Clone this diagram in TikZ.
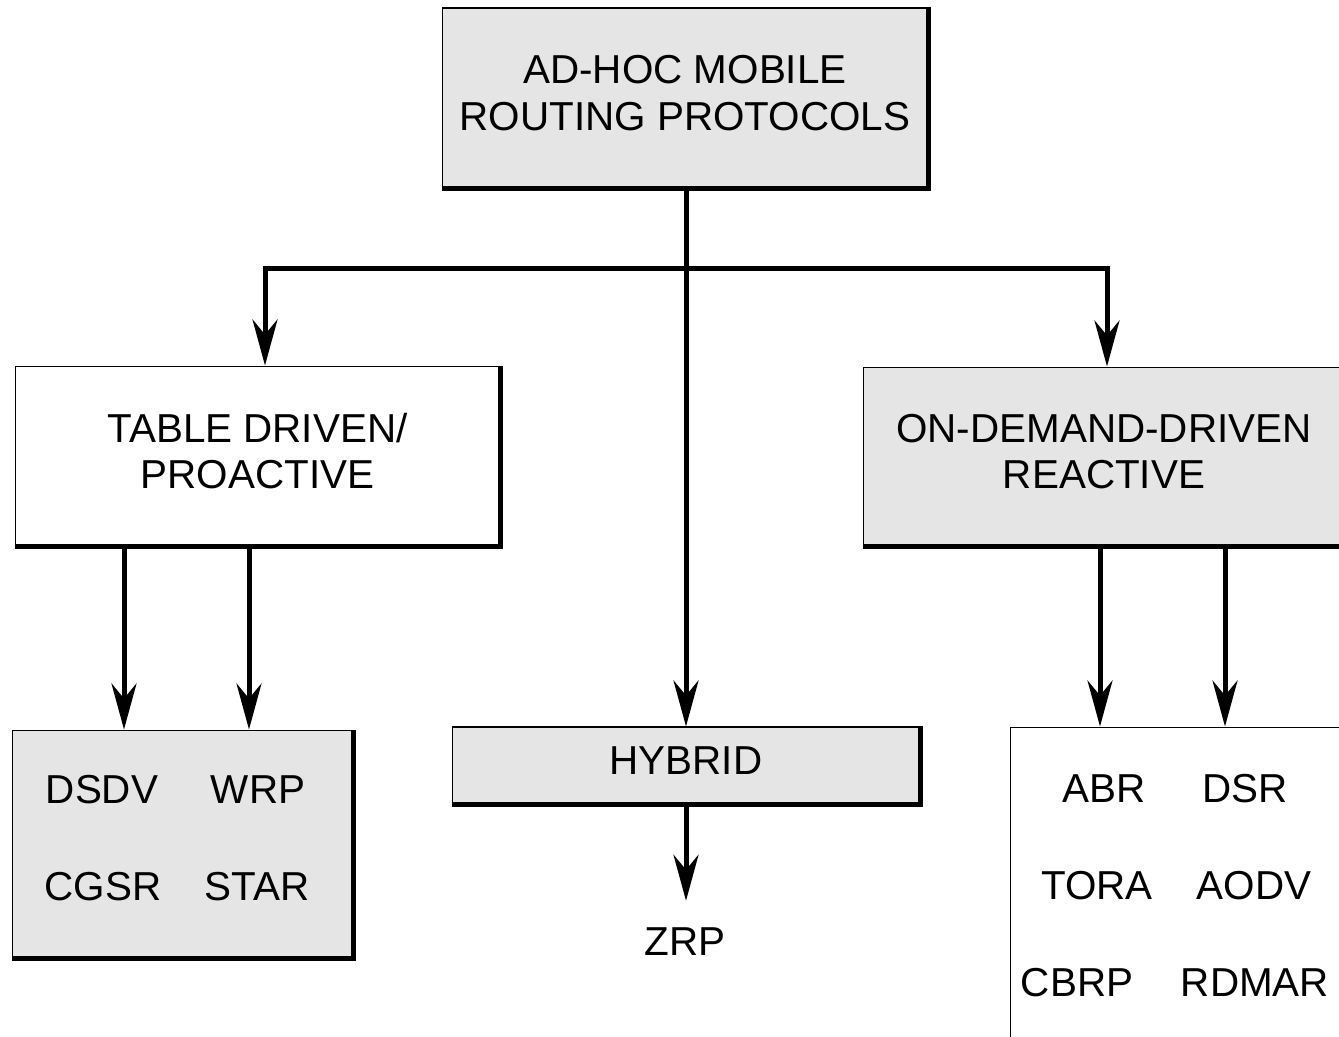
\documentclass[tikz,border=0pt]{standalone}
\usepackage{fontspec}
\setmainfont{Liberation Sans}
\usepackage{xcolor}
\usetikzlibrary{arrows.meta}

\definecolor{boxgray}{gray}{0.9}

\tikzset{
    protobox/.style={draw, line width=0.6pt, fill=boxgray, align=center,
        inner sep=0pt, text depth=0.2cm},
    listbox/.style={protobox, fill=white},
    shadowline/.style={line width=0.1cm, line join=miter},
    arr/.style={line width=0.1cm, line join=miter,
        -{Stealth[length=0.92cm,width=0.5cm,inset=0.3cm]}},
}

\begin{document}
\begin{tikzpicture}[x=0.02cm,y=-0.02cm,font=\fontsize{23}{26.5}\selectfont]
        \useasboundingbox (0,0) rectangle (1339,1036);
        \clip (0,0) rectangle (1339,1036);

        % root box
        \node[protobox, minimum width=9.72cm, minimum height=3.6cm] (adhoc) at (685,98)
            {AD-HOC MOBILE\\ROUTING PROTOCOLS};

        % second level
        \node[protobox, fill=white, minimum width=9.7cm, minimum height=3.6cm] (table) at (257.5,456)
            {TABLE DRIVEN/\\PROACTIVE};
        \node[protobox, minimum width=9.64cm, minimum height=3.58cm] (demand) at (1104,456.5)
            {ON-DEMAND-DRIVEN\\REACTIVE};
        \node[protobox, minimum width=9.36cm, minimum height=1.54cm] (hybrid) at (686,765.5)
            {HYBRID};

        % protocol lists
        \node[protobox, minimum width=6.82cm, minimum height=4.56cm] (tablelist) at (182.5,844) {};
        \node[listbox, minimum width=6.8cm, minimum height=6.8cm] (demandlist) at (1180,897) {};

        \node (dsdv) at (102,790) {DSDV};
        \node (wrp) at (258,790) {WRP};
        \node (cgsr) at (103,887) {CGSR};
        \node (star) at (257,887) {STAR};

        \node (abr) at (1104,789) {ABR};
        \node (dsr) at (1245,789) {DSR};
        \node (tora) at (1097,886) {TORA};
        \node (aodv) at (1254,886) {AODV};
        \node (cbrp) at (1077,983) {CBRP};
        \node (rdmar) at (1255,983) {RDMAR};

        \node[inner sep=0.54cm] (zrp) at (685,942) {ZRP};

        % heavy bottom/right edges
        \draw[shadowline] (adhoc.south west) -| (adhoc.north east);
        \draw[shadowline] (table.south west) -| (table.north east);
        \draw[shadowline] (demand.south west) -| (demand.north east);
        \draw[shadowline] (hybrid.south west) -| (hybrid.north east);
        \draw[shadowline] (tablelist.south west) -| (tablelist.north east);
        \draw[shadowline] (demandlist.south west) -| (demandlist.north east);

        % branch points
        \coordinate (split) at (686,268);
        \coordinate (tin) at (265,0);
        \coordinate (din) at (1107,0);
        \coordinate (tdA) at (124,0);
        \coordinate (tdB) at (249,0);
        \coordinate (odA) at (1100,0);
        \coordinate (odB) at (1225,0);

        % connectors
        \draw[arr] (adhoc.south -| split) -- (hybrid.north -| split);
        \draw[arr] (split) -| (table.north -| tin);
        \draw[arr] (split) -| (demand.north -| din);
        \draw[arr] (table.south -| tdA) -- (tablelist.north -| tdA);
        \draw[arr] (table.south -| tdB) -- (tablelist.north -| tdB);
        \draw[arr] (demand.south -| odA) -- (demandlist.north -| odA);
        \draw[arr] (demand.south -| odB) -- (demandlist.north -| odB);
        \draw[arr] (hybrid.south -| split) -- (zrp.north -| split);
    \end{tikzpicture}
\end{document}
